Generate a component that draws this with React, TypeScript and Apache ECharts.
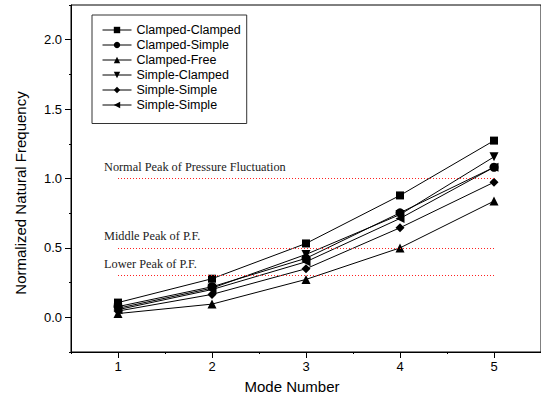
import React, { useEffect, useRef } from "react";
import * as echarts from "echarts";

const modes = [1, 2, 3, 4, 5];
const seriesNames = [
  "Clamped-Clamped",
  "Clamped-Simple",
  "Clamped-Free",
  "Simple-Clamped",
  "Simple-Simple",
  "Simple-Simple ",
];
const symbols = [
  "rect",
  "circle",
  "triangle",
  "path://M0,0 L10,0 L5,10 Z",
  "diamond",
  "path://M10,0 L10,10 L0,5 Z",
];
const clampedClamped = [0.106, 0.278, 0.532, 0.878, 1.273];
const clampedSimple = [0.077, 0.22, 0.425, 0.753, 1.081];
const clampedFree = [0.027, 0.095, 0.273, 0.5, 0.837];
const simpleClamped = [0.065, 0.21, 0.453, 0.74, 1.156];
const simpleSimple = [0.045, 0.165, 0.35, 0.645, 0.973];
const simpleSimple2 = [0.055, 0.2, 0.4, 0.712, 1.081];
const seriesValues = [
  clampedClamped,
  clampedSimple,
  clampedFree,
  simpleClamped,
  simpleSimple,
  simpleSimple2,
];
const peakValues = [1.0, 0.5, 0.3];
const peakLabels = [
  "Normal Peak of Pressure Fluctuation",
  "Middle Peak of P.F.",
  "Lower Peak of P.F.",
];
const yTicks = [0, 0.5, 1, 1.5, 2];
const xTicks = [1, 2, 3, 4, 5];

export default function App() {
  const ref = useRef<HTMLDivElement>(null);
  useEffect(() => {
    if (!ref.current) return;
    const chart = echarts.init(ref.current, null, { renderer: "svg" });
    const font = "Liberation Sans, Arial, sans-serif";
    const series: any[] = seriesValues.map((vals, i) => ({
      name: seriesNames[i],
      type: "line",
      xAxisIndex: 0,
      yAxisIndex: 0,
      data: modes.map((m, j) => [m, vals[j]]),
      symbol: symbols[i],
      symbolSize: i === 0 ? 8 : 9,
      showSymbol: true,
      lineStyle: { color: "#000", width: 1 },
      itemStyle: { color: "#000", borderColor: "#000", borderWidth: 0 },
      z: 3,
    }));
    series.push({
      type: "line",
      name: "peaks",
      data: [],
      xAxisIndex: 0,
      yAxisIndex: 0,
      silent: true,
      markLine: {
        silent: true,
        symbol: "none",
        lineStyle: { color: "#ff2020", type: [1, 2], width: 1 },
        label: {
          show: true,
          position: "insideStartTop",
          fontFamily: "Liberation Serif, Times New Roman, serif",
          fontSize: 12.3,
          color: "#222",
          distance: [-14, 6],
          formatter: (p: any) => p.name,
        },
        data: peakValues.map((v, i) => [
          { coord: [xTicks[0], v], name: peakLabels[i] },
          { coord: [xTicks[xTicks.length - 1], v] },
        ]),
      },
    });
    chart.setOption({
      animation: false,
      grid: {
        left: 71,
        right: -3,
        top: 5,
        bottom: 49,
        show: true,
        borderColor: "#000",
        borderWidth: 1,
        containLabel: false,
      },
      legend: {
        left: 92,
        top: 15,
        orient: "vertical",
        data: seriesNames,
        itemWidth: 29,
        itemHeight: 8,
        itemGap: 2,
        padding: [8.5, 6, 12, 10],
        borderColor: "#333",
        borderWidth: 1,
        backgroundColor: "#fff",
        textStyle: { fontFamily: font, fontSize: 12.5, lineHeight: 13, color: "#000" },
        itemStyle: { color: "#000" },
        lineStyle: { color: "#000", width: 1 },
      },
      xAxis: [
        {
          type: "value",
          min: 0.5,
          max: 5.5,
          position: "bottom",
          splitLine: { show: false },
          axisLine: { show: true, onZero: false, lineStyle: { color: "#000", width: 1 } },
          axisTick: { show: true, customValues: xTicks, length: 6, inside: false, lineStyle: { color: "#000" } },
          axisLabel: {
            customValues: xTicks,
            fontFamily: font,
            fontSize: 13,
            color: "#000",
            margin: 8,
            formatter: (v: number) => String(v),
          },
        },
        {
          type: "value",
          min: 0.5,
          max: 5.5,
          interval: 0.5,
          position: "bottom",
          gridIndex: 0,
          splitLine: { show: false },
          axisLine: { show: false, onZero: false },
          axisTick: { show: true, length: 2, lineStyle: { color: "#000" } },
          axisLabel: { show: false },
        },
      ],
      yAxis: [
        {
          type: "value",
          min: -0.25,
          max: 2.25,
          splitLine: { show: false },
          axisLine: { show: true, onZero: false, lineStyle: { color: "#000", width: 1 } },
          axisTick: { show: true, customValues: yTicks, length: 6, lineStyle: { color: "#000" } },
          axisLabel: {
            customValues: yTicks,
            fontFamily: font,
            fontSize: 13,
            color: "#000",
            margin: 9,
            formatter: (v: number) => v.toFixed(1),
          },
        },
        {
          type: "value",
          min: -0.25,
          max: 2.25,
          interval: 0.25,
          position: "left",
          splitLine: { show: false },
          axisLine: { show: false, onZero: false },
          axisTick: { show: true, length: 2, lineStyle: { color: "#000" } },
          axisLabel: { show: false },
        },
      ],
      graphic: [
        {
          type: "text",
          x: 292,
          y: 386,
          style: {
            text: "Mode Number",
            fontFamily: font,
            fontSize: 15,
            fill: "#000",
            align: "center",
            verticalAlign: "middle",
          },
        },
        {
          type: "text",
          x: 20,
          y: 193,
          rotation: Math.PI / 2,
          style: {
            text: "Normalized Natural Frequency",
            fontFamily: font,
            fontSize: 15,
            fill: "#000",
            align: "center",
            verticalAlign: "middle",
          },
        },
      ],
      series,
    });
    return () => chart.dispose();
  }, []);
  return <div ref={ref} style={{ width: 541, height: 401, position: "absolute", left: 0, top: 0 }} />;
}
